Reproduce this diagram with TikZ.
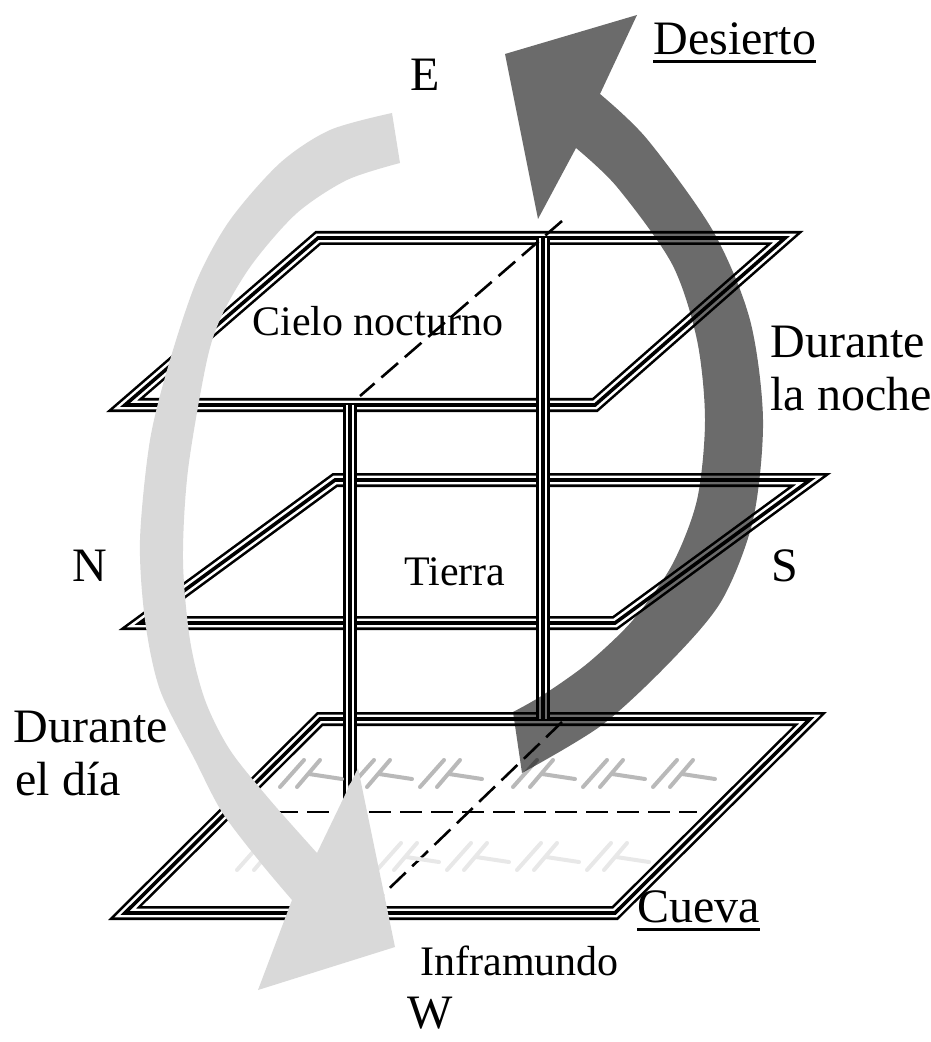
\documentclass[tikz,border=0pt]{standalone}
\usepackage{fontspec}
\setmainfont{Liberation Serif}
\usepackage{tikz}
\usetikzlibrary{positioning}

\tikzset{
	rail/.style={draw=white, line width=4.4pt, line join=miter,
		preaction={draw=black, line width=7pt, line join=miter},
		postaction={draw=black, line width=1.8pt, line join=miter}},
	guide/.style={draw=black, line width=1.3pt, dash pattern=on 11pt off 4.5pt},
	tuft/.style={line width=2pt, line cap=round},
	big/.style={font=\fontsize{24}{28}\selectfont, inner sep=0pt},
	small/.style={font=\fontsize{21}{25}\selectfont, inner sep=0pt}
}

\begin{document}
\begin{tikzpicture}[x=0.5pt, y=-0.5pt]
	\useasboundingbox (0,0) rectangle (930,1042);

	% corners of the three levels
	\coordinate (sky1) at (318,238);
	\coordinate (sky2) at (785,238);
	\coordinate (sky3) at (595,405);
	\coordinate (sky4) at (125,405);
	\coordinate (earth1) at (335,480);
	\coordinate (earth2) at (810,480);
	\coordinate (earth3) at (615,623);
	\coordinate (earth4) at (140,623);
	\coordinate (cave1) at (320,719);
	\coordinate (cave2) at (810,719);
	\coordinate (cave3) at (615,913);
	\coordinate (cave4) at (125,913);

	% posts
	\coordinate (post1a) at (350,405);
	\coordinate (post1b) at (350,800);
	\coordinate (post2a) at (543,238);
	\coordinate (post2b) at (543,719);

	\draw[rail] (sky1) -- (sky2) -- (sky3) -- (sky4) -- cycle;
	\draw[rail] (earth1) -- (earth2) -- (earth3) -- (earth4) -- cycle;
	\draw[rail] (cave1) -- (cave2) -- (cave3) -- (cave4) -- cycle;
	\draw[rail] (post1a) -- (post1b);
	\draw[rail] (post2a) -- (post2b);

	% dashed guides
	\coordinate (g1a) at (562,221);
	\coordinate (g1b) at (360,396);
	\coordinate (g2a) at (562,722);
	\coordinate (g2b) at (372,905);
	\coordinate (g3a) at (245,812);
	\coordinate (g3b) at (697,812);
	\draw[guide] (g1a) -- (g1b);
	\draw[guide] (g2a) -- (g2b);
	\draw[guide] (g3a) -- (g3b);

	% grass tufts in the cave
	\foreach \x in {280,350,420,513,583,653}
		\draw[tuft, gray!55] (\x,787) -- ++(24,-27) (\x+17,787) -- ++(23,-27) (\x+29,774) -- ++(33,5);
	\foreach \x in {237,307,377,447,517,587}
		\draw[tuft, gray!18] (\x,870) -- ++(24,-27) (\x+17,870) -- ++(23,-27) (\x+29,857) -- ++(33,5);

	% night arrow
	\fill[black!58, blend mode=multiply] (505,54) -- (637,15)
		-- plot[smooth] coordinates {(600,94) (647,139) (713,231) (750,320) (763,420) (753,520) (722,600) (672,660) (602,725) (522,773)}
		-- plot[smooth] coordinates {(513,712) (543,695) (588,663) (633,620) (672,565) (697,500) (705,420) (697,340) (672,264) (617,187) (576,148)}
		-- (538,219) -- cycle;

	% day arrow
	\fill[gray!30] (392,113)
		-- plot[smooth] coordinates {(392,113) (330,130) (280,163) (230,220) (197,280) (170,360) (150,440) (140,540) (145,620) (160,690) (195,760) (222,812) (260,862) (292,900)}
		-- (258,990) -- (395,947) -- (358,768)
		-- plot[smooth] coordinates {(317,853) (270,800) (230,750) (205,700) (190,640) (183,560) (188,470) (207,360) (223,313) (253,263) (297,213) (347,180) (400,163)}
		-- cycle;

	% labels
	\node[big, anchor=base] (e) at (425,91) {E};
	\node[big, anchor=base west] (desierto) at (653,55) {Desierto};
	\draw[line width=1.5pt] ([yshift=-3.5pt]desierto.base west) -- ([yshift=-3.5pt]desierto.base east);
	\node[small, anchor=base west] (cielo) at (252,336) {Cielo nocturno};
	\node[big, anchor=base west] (noche1) at (770,358) {Durante};
	\node[big, anchor=base west] (noche2) at (770,410) {la noche};
	\node[big, anchor=base] (n) at (90,581) {N};
	\node[small, anchor=base] (tierra) at (455,585) {Tierra};
	\node[big, anchor=base] (s) at (785,581) {S};
	\node[big, anchor=base west] (dia1) at (13,742) {Durante};
	\node[big, anchor=base west] (dia2) at (15,795) {el día};
	\node[big, anchor=base west] (cueva) at (637,922) {Cueva};
	\draw[line width=1.5pt] ([yshift=-3.5pt]cueva.base west) -- ([yshift=-3.5pt]cueva.base east);
	\node[small, anchor=base west] (inframundo) at (420,975) {Inframundo};
	\node[big, anchor=base] (w) at (430,1028) {W};
\end{tikzpicture}
\end{document}
